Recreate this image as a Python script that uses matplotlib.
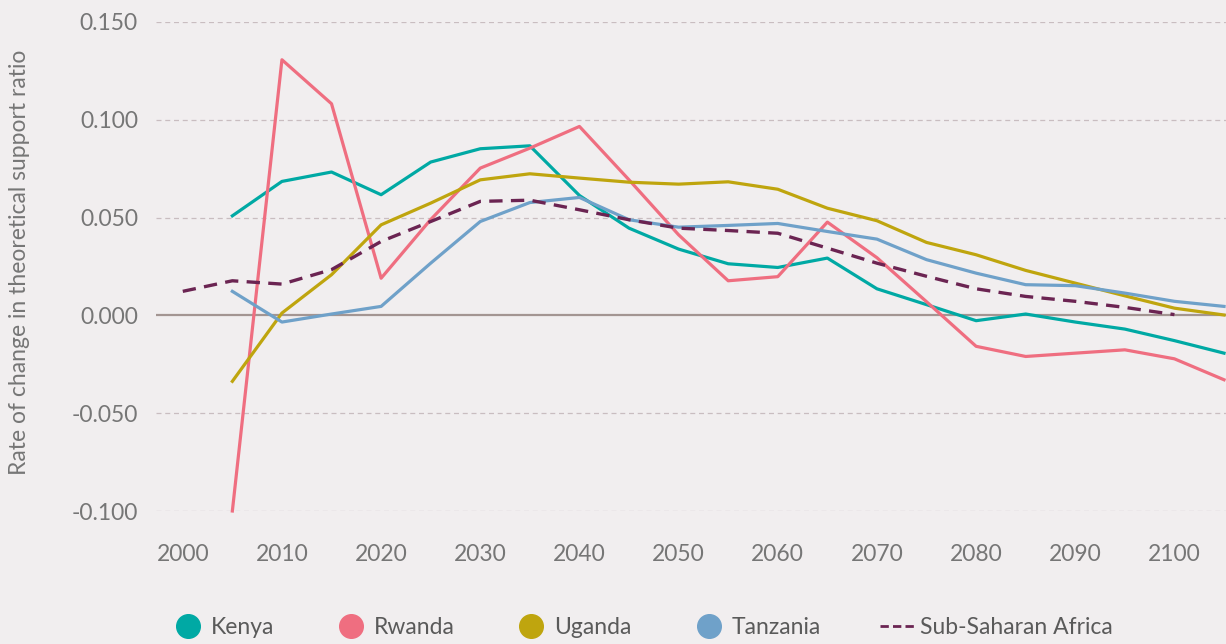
import matplotlib
matplotlib.use("Agg")
import matplotlib.pyplot as plt
from matplotlib.lines import Line2D

plt.rcParams['font.family'] = ['Lato', 'DejaVu Sans']

years_ssa = list(range(2000, 2101, 5))
years = list(range(2005, 2106, 5))

kenya = [0.0509, 0.0685, 0.0733, 0.0617, 0.0784, 0.0852, 0.0867, 0.0613, 0.0446, 0.0339,
         0.0264, 0.0245, 0.0293, 0.0136, 0.0055, -0.0027, 0.0007, -0.0034, -0.0070, -0.0129, -0.0193]
rwanda = [-0.1000, 0.1307, 0.1082, 0.0190, 0.0490, 0.0753, 0.0855, 0.0966, 0.0693, 0.0412,
          0.0177, 0.0198, 0.0477, 0.0295, 0.0070, -0.0158, -0.0210, -0.0193, -0.0176, -0.0222, -0.0329]
uganda = [-0.0337, 0.0012, 0.0208, 0.0463, 0.0574, 0.0693, 0.0724, 0.0702, 0.0681, 0.0671,
          0.0683, 0.0645, 0.0548, 0.0484, 0.0373, 0.0310, 0.0230, 0.0165, 0.0100, 0.0037, 0.0002]
tanzania = [0.0123, -0.0034, 0.0007, 0.0046, 0.0267, 0.0480, 0.0577, 0.0603, 0.0489, 0.0451,
            0.0460, 0.0470, 0.0429, 0.0390, 0.0285, 0.0216, 0.0157, 0.0152, 0.0114, 0.0072, 0.0046]
ssa = [0.0123, 0.0177, 0.0160, 0.0234, 0.0378, 0.0480, 0.0583, 0.0589, 0.0540, 0.0489, 0.0446,
       0.0434, 0.0420, 0.0344, 0.0267, 0.0200, 0.0136, 0.0097, 0.0072, 0.0041, 0.0004]

y_ticks = [0.150, 0.100, 0.050, 0.000, -0.050, -0.100]
x_ticks = list(range(2000, 2101, 10))

c_kenya = '#00A9A4'
c_rwanda = '#EF6E80'
c_uganda = '#BFA50E'
c_tanz = '#6FA1C9'
c_ssa = '#6B2452'
bg = '#F1EEEF'
txt = '#767676'

fig = plt.figure(figsize=(12.26, 6.44), dpi=100, facecolor=bg)
ax = fig.add_axes([156/1226, 1-511/644, 1-156/1226, (511-22)/644])
ax.set_facecolor(bg)

for yv in y_ticks:
    if yv == 0:
        ax.axhline(0, color='#A39592', lw=1.6, zorder=1)
    else:
        ax.axhline(yv, color='#C9BDC0', lw=0.9, ls=(0, (4, 3)), zorder=1)

lw = 2.3
ax.plot(years, kenya, color=c_kenya, lw=lw, clip_on=False, zorder=3)
ax.plot(years, rwanda, color=c_rwanda, lw=lw, clip_on=False, zorder=3)
ax.plot(years, uganda, color=c_uganda, lw=lw, clip_on=False, zorder=3)
ax.plot(years, tanzania, color=c_tanz, lw=lw, clip_on=False, zorder=3)
ax.plot(years_ssa, ssa, color=c_ssa, lw=2.4, ls=(0, (4, 2.5)), clip_on=False, zorder=4)

ax.set_xlim(1997.3, 2105.2)
ax.set_ylim(-0.100, 0.150)
ax.set_yticks(y_ticks)
ax.set_yticklabels([f'{v:.3f}' for v in y_ticks])
ax.set_xticks(x_ticks)
ax.set_xticklabels([str(v) for v in x_ticks])
ax.tick_params(axis='both', length=0, labelsize=16.5, labelcolor=txt)
ax.tick_params(axis='y', pad=13)
ax.tick_params(axis='x', pad=24)
for s in ax.spines.values():
    s.set_visible(False)

fig.text(20/1226, 1-262/644, 'Rate of change in theoretical support ratio', rotation=90,
         ha='center', va='center', fontsize=16.5, color=txt)

handles = [
    Line2D([], [], ls='none', marker='o', ms=17, color=c_kenya, label='Kenya'),
    Line2D([], [], ls='none', marker='o', ms=17, color=c_rwanda, label='Rwanda'),
    Line2D([], [], ls='none', marker='o', ms=17, color=c_uganda, label='Uganda'),
    Line2D([], [], ls='none', marker='o', ms=17, color=c_tanz, label='Tanzania'),
    Line2D([], [], color=c_ssa, lw=2, ls=(0, (3, 1.5)), label='Sub-Saharan Africa'),
]
leg = fig.legend(handles=handles, loc='center left', bbox_to_anchor=(150/1226, 1-628/644),
                 ncol=5, frameon=False, fontsize=16.5, handlelength=1.5, handletextpad=0.25,
                 columnspacing=2.6, labelcolor='#5a5a5a')

fig.savefig('out.png', dpi=100, facecolor=bg)
